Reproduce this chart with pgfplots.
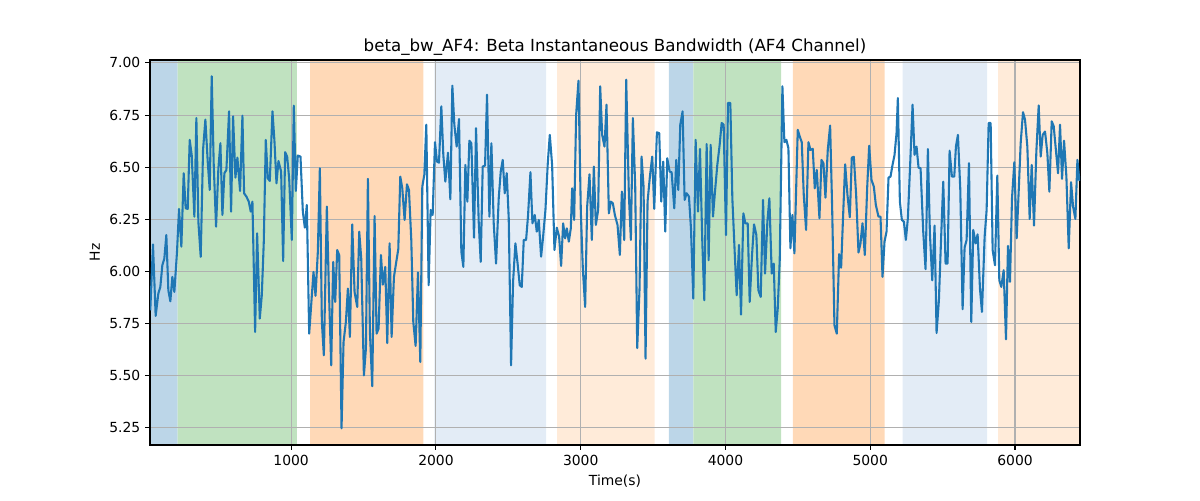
\documentclass[border=0pt]{standalone}
\usepackage{pgfplots}
\pgfplotsset{compat=1.18}
\usepackage{fontspec}
\setmainfont{DejaVu Sans}

\definecolor{mplblue}{HTML}{1F77B4}
\definecolor{spanblue}{HTML}{BCD6E8}
\definecolor{spangreen}{HTML}{C0E2C0}
\definecolor{spanorange}{HTML}{FFD9B7}
\definecolor{spanlblue}{HTML}{E3ECF6}
\definecolor{spanlorange}{HTML}{FFEBD9}
\definecolor{gridgray}{HTML}{B0B0B0}

% shaded segments: colour, start, end (kept inside the axis limits)
\newcommand{\vspan}[3]{%
  \addplot[fill=#1, draw=none, on layer=axis background]
    coordinates {(#2,5.168) (#3,5.168) (#3,7.014) (#2,7.014)} \closedcycle;}

\begin{document}
\begin{tikzpicture}
\begin{axis}[
  set layers,
  scale only axis,
  width=669.6pt, height=277.2pt,
  at={(0,0)}, anchor=south west,
  xmin=25, xmax=6449,
  ymin=5.168, ymax=7.014,
  xtick={1000,2000,...,6000},
  ytick={5.25,5.5,...,7.0},
  yticklabel style={/pgf/number format/.cd, fixed, fixed zerofill, precision=2},
  xticklabel style={/pgf/number format/.cd, fixed, 1000 sep={}},
  /pgf/number format/assume math mode=true,
  tick label style={font=\fontsize{10}{12}\selectfont},
  tick pos=left,
  tick align=outside,
  major tick length=3.5pt,
  every tick/.style={black, line width=0.8pt},
  axis line style={line width=0.8pt},
  grid=major,
  major grid style={gridgray, line width=0.8pt},
  title={beta\_bw\_AF4: Beta Instantaneous Bandwidth (AF4 Channel)},
  title style={font=\fontsize{12}{14}\selectfont, yshift=-6.3pt},
  xlabel={Time(s)},
  ylabel={Hz},
  label style={font=\fontsize{10}{12}\selectfont},
]
\vspan{spanblue}{25}{216}
\vspan{spangreen}{216}{1039}
\vspan{spanorange}{1131}{1913}
\vspan{spanlblue}{1990}{2762}
\vspan{spanlorange}{2838}{3510}
\vspan{spanblue}{3609}{3778}
\vspan{spangreen}{3778}{4384}
\vspan{spanorange}{4465}{5099}
\vspan{spanlblue}{5223}{5808}
\vspan{spanlorange}{5883}{6449}

\addplot[mplblue, line width=1.5pt, line join=round] table {
27 5.814
45.6 6.130
64.1 5.787
82.5 5.894
96.4 5.926
110.2 6.030
124.0 6.062
137.8 6.175
151.7 5.910
165.5 5.857
179.3 5.974
193.2 5.902
211.6 6.095
225.4 6.300
241.6 6.119
257.7 6.471
271.5 6.303
285.4 6.300
299.2 6.631
313.0 6.559
331.5 6.263
345.3 6.736
359.1 6.239
375.3 6.070
391.4 6.583
407.5 6.728
423.7 6.527
437.5 6.391
451.3 6.936
465.2 6.511
481.3 6.215
497.4 6.495
511.3 6.615
525.1 6.271
538.9 6.471
552.7 6.487
571.2 6.768
585.0 6.287
598.8 6.744
615.0 6.450
628.8 6.546
647.2 6.386
663.4 6.747
674.9 6.375
691.0 6.359
707.2 6.335
721.0 6.287
732.5 6.335
751.1 5.710
764.9 6.183
783.3 5.774
797.2 5.886
811.0 6.143
824.8 6.631
838.7 6.447
852.5 6.434
870.9 6.768
884.8 6.623
898.6 6.423
912.4 6.530
930.8 6.479
944.7 6.050
958.5 6.572
972.3 6.551
986.2 6.447
1004.6 6.151
1018.4 6.795
1032.3 6.386
1046.1 6.556
1064.5 6.551
1080.7 6.287
1094.5 6.210
1108.3 6.319
1124.5 5.702
1140.6 5.862
1154.4 5.998
1168.3 5.883
1184.4 6.095
1198.2 6.495
1212.1 5.758
1225.9 5.598
1246.6 6.311
1260.5 5.918
1276.6 5.550
1290.4 6.046
1304.3 5.854
1318.1 6.103
1331.9 6.079
1348.1 5.248
1361.9 5.662
1378.0 5.758
1391.9 5.918
1405.7 5.686
1421.8 6.226
1438.0 5.902
1456.4 5.830
1470.3 6.191
1484.1 6.062
1502.5 5.502
1516.4 5.630
1530.2 6.444
1544.0 5.710
1560.2 5.450
1576.3 6.266
1590.1 5.702
1604.0 5.726
1620.1 6.079
1633.9 5.937
1650.1 6.022
1663.9 5.657
1680.0 6.135
1693.9 5.686
1710.0 5.974
1726.1 6.046
1740.0 6.107
1753.8 6.455
1767.6 6.399
1783.7 6.247
1799.9 6.418
1813.7 6.391
1829.8 6.151
1843.7 5.758
1859.8 5.643
1876.0 5.995
1892.1 5.566
1905.9 6.407
1919.7 6.463
1933.6 6.704
1949.7 5.934
1963.5 6.295
1977.4 6.271
1993.5 6.620
2007.3 6.527
2021.2 6.522
2037.3 6.792
2051.1 6.559
2065.0 6.431
2083.4 6.570
2099.7 6.346
2113.4 6.891
2127.2 6.704
2143.3 6.599
2159.5 6.731
2175.6 6.095
2189.5 6.022
2203.3 6.511
2217.1 6.335
2231.0 6.627
2244.8 6.615
2263.2 6.162
2277.1 6.687
2295.5 6.239
2309.3 6.046
2323.2 6.503
2339.3 6.508
2353.1 6.848
2369.3 6.263
2383.1 6.615
2399.2 6.231
2415.4 6.038
2433.8 6.351
2447.6 6.479
2461.5 6.535
2475.3 6.375
2489.1 6.471
2502.9 6.255
2519.1 5.550
2532.9 5.950
2549.0 6.135
2562.9 6.046
2579.0 5.934
2592.8 5.926
2606.7 6.151
2622.8 6.151
2636.6 6.271
2652.8 6.476
2666.6 6.231
2682.7 6.271
2696.6 6.191
2710.4 6.247
2726.5 6.071
2740.4 6.167
2756.5 6.295
2772.6 6.519
2786.5 6.655
2802.6 6.511
2818.7 6.103
2834.9 6.210
2851.0 6.167
2864.8 6.027
2878.7 6.231
2892.5 6.159
2904.1 6.207
2917.9 6.143
2931.7 6.207
2940.9 6.399
2954.8 6.247
2968.6 6.752
2984.7 6.915
3000.9 6.287
3014.7 6.014
3030.8 5.830
3044.7 6.311
3060.8 6.466
3076.9 6.151
3090.8 6.503
3104.6 6.223
3120.7 6.295
3134.6 6.888
3148.4 6.655
3164.5 6.599
3178.3 6.800
3194.5 6.279
3208.3 6.335
3222.1 6.327
3236.0 6.271
3254.4 6.223
3270.5 6.079
3284.4 6.383
3300.5 6.151
3314.3 6.920
3332.8 6.367
3346.6 6.151
3360.4 6.736
3376.6 6.407
3390.4 5.633
3406.5 5.918
3420.4 6.551
3434.2 6.407
3448.0 5.582
3461.9 6.335
3478.0 6.455
3494.1 6.551
3508.0 6.300
3526.4 6.667
3542.5 6.663
3556.4 6.335
3570.2 6.527
3584.0 6.191
3597.9 6.543
3614.1 6.479
3628.0 6.476
3646.4 6.303
3660.2 6.535
3674.1 6.391
3687.9 6.704
3704.0 6.768
3717.9 6.343
3731.7 6.375
3747.8 6.359
3761.7 6.207
3777.8 5.870
3793.9 6.631
3810.1 6.287
3823.9 6.588
3840.0 6.143
3853.9 5.862
3870.0 6.611
3883.8 6.054
3897.6 6.607
3913.8 6.263
3927.6 6.383
3943.7 6.511
3959.9 6.607
3973.7 6.712
3987.5 6.704
4003.7 6.175
4017.5 6.808
4033.6 6.808
4047.5 6.351
4063.6 6.095
4077.4 5.886
4093.6 6.127
4107.4 5.793
4123.5 6.279
4137.4 6.231
4153.5 6.231
4167.3 5.854
4183.5 6.079
4197.3 6.226
4213.4 6.175
4227.3 5.910
4243.4 5.878
4259.5 6.343
4273.4 5.990
4289.5 6.239
4303.3 6.351
4319.5 5.990
4333.3 6.038
4347.2 5.710
4361.0 5.822
4374.8 6.054
4393.3 6.888
4407.1 6.620
4420.9 6.631
4434.8 6.591
4448.6 6.111
4462.4 6.271
4476.2 6.087
4499.3 6.679
4513.1 6.647
4527.0 6.620
4540.8 6.367
4556.9 6.199
4573.1 6.620
4586.9 6.583
4603.0 6.588
4616.8 6.399
4630.7 6.487
4649.1 6.255
4663.0 6.535
4676.8 6.519
4690.6 6.354
4706.7 6.583
4722.9 6.700
4736.7 6.311
4752.8 5.742
4769.0 5.702
4785.1 6.083
4798.9 6.018
4812.8 6.271
4826.6 6.514
4842.7 6.367
4858.9 6.260
4872.7 6.546
4886.5 6.550
4902.7 6.367
4918.8 6.091
4932.6 6.135
4946.5 6.231
4962.6 6.079
4978.7 6.399
4992.6 6.603
5008.7 6.439
5024.8 6.407
5038.7 6.319
5057.1 6.263
5071.0 6.263
5084.8 5.974
5098.6 6.143
5112.5 6.191
5126.3 6.450
5140.1 6.455
5154.0 6.511
5167.8 6.559
5181.6 6.663
5190.8 6.832
5204.7 6.335
5218.5 6.247
5232.3 6.239
5246.1 6.151
5260.0 6.255
5276.1 6.519
5292.3 6.800
5306.1 6.559
5319.9 6.599
5333.7 6.498
5347.6 6.495
5366.0 6.191
5382.1 6.011
5398.3 6.587
5412.1 6.183
5428.2 5.958
5444.4 6.220
5458.2 5.705
5474.3 5.862
5488.2 6.135
5504.3 6.431
5520.4 6.038
5534.3 6.038
5548.1 6.579
5564.2 6.455
5580.4 6.455
5591.9 6.599
5605.7 6.655
5621.9 6.396
5638.0 5.819
5651.8 6.115
5665.7 6.151
5681.8 6.519
5697.9 5.758
5711.8 6.199
5727.9 6.135
5741.7 6.178
5757.9 5.918
5771.7 5.806
5790.2 6.167
5804.0 6.295
5817.8 6.712
5831.7 6.712
5845.5 6.103
5861.6 6.030
5877.8 6.460
5891.6 5.958
5905.4 5.926
5921.6 6.006
5937.7 5.675
5951.5 6.123
5965.4 5.950
5979.2 6.351
5995.3 6.524
6011.5 6.159
6025.3 6.383
6039.1 6.615
6055.2 6.764
6069.1 6.728
6085.2 6.599
6101.3 6.252
6115.2 6.511
6131.3 6.220
6147.4 6.575
6163.6 6.796
6177.4 6.551
6191.2 6.655
6207.4 6.671
6223.5 6.567
6237.3 6.383
6253.5 6.720
6267.3 6.696
6283.4 6.575
6297.3 6.471
6311.1 6.704
6324.9 6.444
6338.8 6.627
6354.9 6.455
6371.0 6.111
6387.2 6.428
6401.0 6.311
6417.1 6.252
6431.0 6.535
6444.8 6.434
};
\end{axis}
\pgfresetboundingbox
\path (-108pt,-39.6pt) rectangle (756pt,320.4pt);
\end{tikzpicture}
\end{document}
